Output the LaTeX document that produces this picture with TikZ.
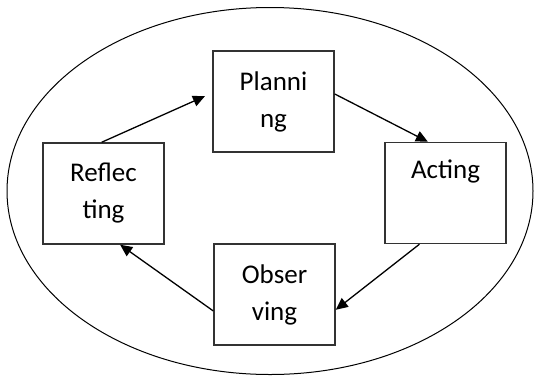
\documentclass[tikz,border=0pt]{standalone}
\usepackage{fontspec}
\setmainfont{Carlito}
\usetikzlibrary{arrows.meta, shapes.geometric}

\begin{document}
\begin{tikzpicture}[
    x=1pt, y=-1pt,
    font=\fontsize{27}{37}\selectfont,
    stage/.style={rectangle, draw=black!80, line width=1.5pt, minimum width=121pt, minimum height=101pt, align=center, inner sep=0pt},
    arrow/.style={-{Triangle[length=12pt, width=11pt]}, line width=1.3pt}
]

\useasboundingbox (0,0) rectangle (535,378);

% Outer ellipse
\node[ellipse, draw, line width=1pt, minimum width=526pt, minimum height=367pt, inner sep=0pt] (cycle) at (270,191) {};

% Stages
\node[stage] (planning) at (273.5,101.5) {Planni\\ng};
\node[stage] (acting) at (445.5,193) {Acting\\\strut};
\node[stage] (observing) at (274.5,294.5) {Obser\\ving};
\node[stage] (reflecting) at (103.5,193.5) {Reflec\\ting};

% Cycle arrows
\draw[arrow, shorten >=8pt] (reflecting.92) -- (planning.172);
\draw[arrow] (planning.7) -- (acting.109);
\draw[arrow] (acting.243) -- (observing.-14);
\draw[arrow] (observing.195) -- (reflecting.-72);

\end{tikzpicture}
\end{document}
